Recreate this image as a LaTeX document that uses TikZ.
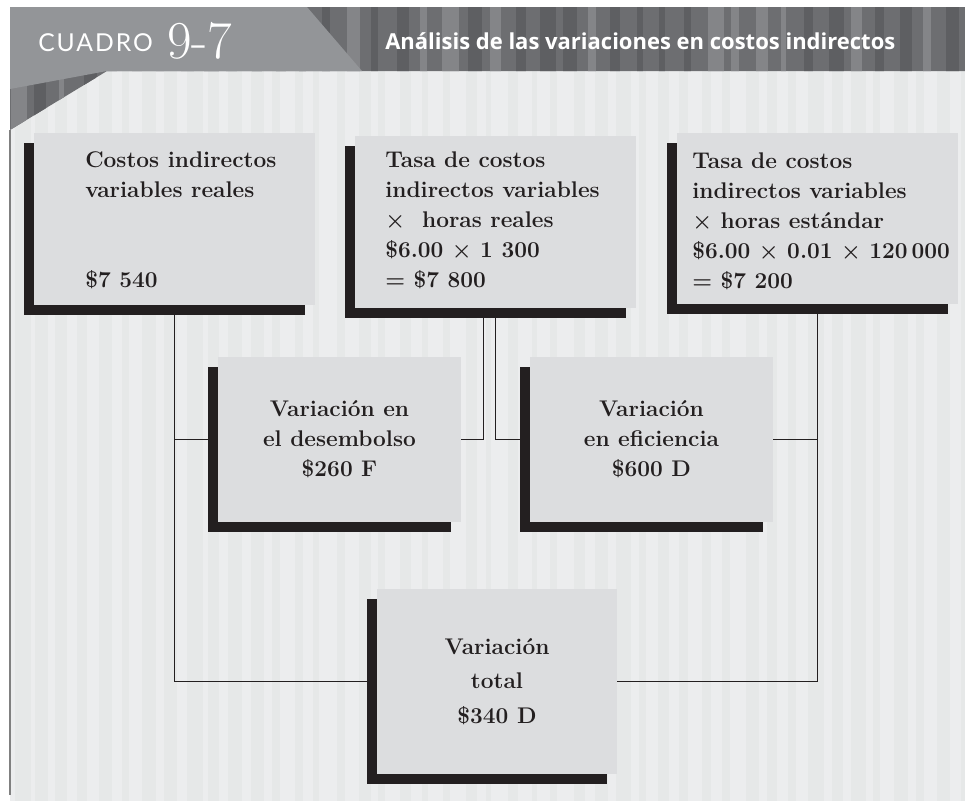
\documentclass[tikz,border=0pt]{standalone}
\usepackage{fontspec}
\usetikzlibrary{positioning,shadows}
\newfontfamily\headsans{Open Sans}
\newfontfamily\tabsans{Lato}
\definecolor{boxgray}{HTML}{DCDDDF}
\definecolor{inkblk}{HTML}{231F20}
\definecolor{bandgray}{HTML}{6D6E71}
\definecolor{banddark}{HTML}{5E5F62}
\definecolor{bandlight}{HTML}{848588}
\definecolor{tabgray}{HTML}{939598}
\definecolor{bggray}{HTML}{ECEDEE}
\definecolor{bgstripe}{HTML}{E6E8E8}
\newcommand{\boxfont}{\fontsize{17}{22.5}\selectfont\bfseries}

\begin{document}
\begin{tikzpicture}[x=0.75pt,y=-0.75pt,
  box/.style={fill=boxgray,inner sep=0pt,align=center,text=inkblk,font=\boxfont,
    general shadow={fill=inkblk,shadow xshift=-7.5pt,shadow yshift=-7.5pt}},
  topbox/.style={box,minimum width=210.75pt,minimum height=129pt},
  midbox/.style={box,minimum width=182.25pt,minimum height=123.75pt},
  lbl/.style={anchor=base west,align=left,inner sep=0pt,text=inkblk,font=\boxfont},
  link/.style={draw=inkblk,line width=1.1pt}]
\useasboundingbox (0,0) rectangle (965,801);

% background
\begin{scope}
  \clip (107,71) -- (965,71) -- (965,801) -- (10,801) -- (10,130) -- cycle;
  \fill[bggray] (0,60) rectangle (965,801);
  \pgfmathsetseed{11}
  \foreach \i in {0,...,44}{
    \pgfmathsetmacro\sx{12+21.5*\i+4*rnd}
    \pgfmathsetmacro\sw{5+12*rnd}
    \fill[bgstripe] (\sx,60) rectangle ++(\sw,741);
  }
\end{scope}
\draw[gray,line width=0.8pt] (10,130) -- (10,795);

% header band
\begin{scope}
  \clip (10,7) -- (965,7) -- (965,71) -- (107,71) -- (10,130) -- cycle;
  \fill[bandgray] (10,7) rectangle (965,130);
  \pgfmathsetseed{5}
  \foreach \i in {0,...,40}{
    \pgfmathsetmacro\sx{10+24*\i+3*rnd}
    \pgfmathsetmacro\sw{5+12*rnd}
    \pgfmathsetmacro\sk{rnd}
    \ifdim\sk pt>0.45pt
      \fill[banddark] (\sx,7) rectangle ++(\sw,123);
    \else
      \fill[bandlight] (\sx,7) rectangle ++(\sw,123);
    \fi
  }
\end{scope}
\fill[tabgray] (10,7) -- (307,7) -- (362,71) -- (107,71) -- (10,89) -- cycle;

\node[anchor=base west,inner sep=0pt,text=white,
  font=\tabsans\addfontfeature{LetterSpace=8}\fontsize{18.5}{22}\selectfont]
  (cuadro) at (38,51) {CUADRO};
\node[anchor=base west,inner sep=0pt,text=white,font=\fontsize{40}{40}\selectfont]
  (numero) at (167,58) {9-7};
\node[anchor=base west,inner sep=0pt,text=white,font=\headsans\bfseries\fontsize{16.5}{19}\selectfont]
  (titulo) at (385,49) {Análisis de las variaciones en costos indirectos};

% boxes
\node[topbox] (reales)   at (174.5,219)   {};
\node[topbox] (tasareal) at (495.5,222)   {};
\node[topbox,minimum height=128.25pt] (tasaest) at (817.5,218.5) {};
\node[lbl] (reales-t) at (85,287)
  {Costos indirectos\\variables reales\\[45pt]\$7 540};
\node[lbl] (tasareal-t) at (385,287)
  {Tasa de costos\\indirectos variables\\× \ horas reales\\\$6.00 × 1 300\\= \$7 800};
\node[lbl] (tasaest-t) at (692,288)
  {Tasa de costos\\indirectos variables\\× horas estándar\\\$6.00 × 0.01 × 120\,000\\= \$7 200};

\node[midbox] (desemb) at (339.5,439.5) {Variación en\\el desembolso\\\$260 F};
\node[midbox] (efic)   at (651.5,439.5) {Variación\\en eficiencia\\\$600 D};
\node[box,minimum width=180pt,minimum height=138.75pt,
  font=\fontsize{17}{26}\selectfont\bfseries] (total) at (497,681.5)
  {Variación\\total\\\$340 D};

% connectors
\draw[link] (reales.south) |- (total.west);
\draw[link] (reales.south |- desemb.west) -- (desemb.west);
\draw[link] (desemb.east) -| ([xshift=-9pt]tasareal.south);
\draw[link] (tasareal.south) |- (efic.west);
\draw[link] (efic.east) -| (tasaest.south);
\draw[link] (total.east) -| (tasaest.south);
\end{tikzpicture}
\end{document}
